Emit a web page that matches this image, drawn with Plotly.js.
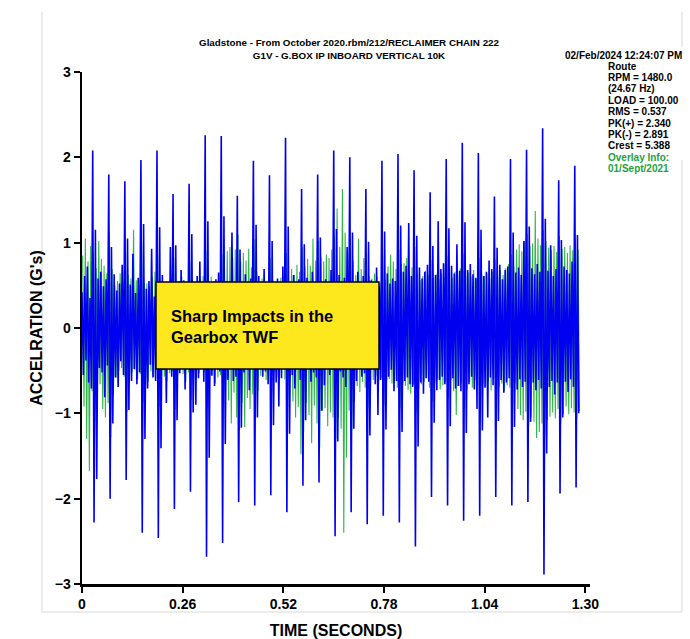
<!DOCTYPE html>
<html>
<head>
<meta charset="utf-8">
<script src="https://cdn.plot.ly/plotly-3.0.1.min.js"></script>
<style>html,body{margin:0;padding:0;background:#fff;}#chart{width:690px;height:639px;}</style>
</head>
<body>
<div id="chart"></div>
<script>
// ---- data ----
const SAMPLE_DT = 0.0034583;           // seconds between samples (12 per shaft revolution)
const xTickVals = [0, 0.26, 0.52, 0.78, 1.04, 1.30];
const xTickText = ["0", "0.26", "0.52", "0.78", "1.04", "1.30"];
const yTickVals = [-3, -2, -1, 0, 1, 2, 3];

// current reading (02/Feb/2024) - blue
const accelCurrent = [
 0.42,-0.55,0.61,-0.38,0.72,-0.64,0.35,-0.71, 2.08,-2.28,1.15,-1.77,
 0.58,-0.47,0.66,-0.52,0.49,-0.81,0.57,-0.44, 1.80,-2.00,0.95,-1.12,
 0.63,-0.58,0.44,-0.69,0.52,-0.39,0.74,-0.55, 1.72,-1.78,1.05,-0.96,
 0.51,-0.62,0.87,-0.48,0.41,-0.66,0.59,-0.52, 1.97,-2.40,1.22,-1.30,
 0.46,-0.71,0.55,-0.43,0.93,-0.58,0.37,-0.62, 2.08,-2.46,1.18,-1.41,
 0.62,-0.49,0.40,-0.88,0.53,-0.46,0.95,-0.57, 1.57,-2.12,0.97,-1.08,
 0.44,-0.53,0.68,-0.41,0.56,-0.72,0.49,-0.38, 1.69,-1.92,1.10,-0.99,
 0.52,-0.90,0.61,-0.59,0.78,-0.47,0.42,-0.63, 2.26,-2.68,1.25,-1.52,
 0.48,-0.56,0.39,-0.68,0.57,-0.44,0.65,-0.51, 2.25,-2.52,1.31,-1.36,
 0.55,-0.61,0.47,-0.39,1.12,-0.62,0.43,-0.57, 1.55,-2.04,0.92,-1.17,
 0.47,-0.52,0.63,-0.45,0.51,-0.73,0.58,-0.42, 1.96,-2.08,1.21,-1.05,
 0.61,-0.48,0.42,-0.57,0.69,-0.51,0.47,-0.66, 1.79,-1.96,1.02,-1.14,
 0.53,-0.64,0.58,-0.92,0.46,-0.59,0.72,-0.48, 2.23,-2.16,1.19,-1.24,
 0.45,-0.55,0.62,-0.71,0.51,-0.47,0.57,-0.61, 1.63,-1.85,0.98,-1.08,
 0.59,-0.44,0.48,-0.63,0.66,-0.52,0.43,-0.58, 1.80,-1.81,1.06,-0.97,
 0.50,-0.67,0.57,-0.46,0.44,-0.55,0.68,-0.49, 2.08,-2.44,1.16,-1.33,
 0.62,-0.51,0.45,-0.58,0.59,-0.69,0.95,-0.47, 2.00,-2.16,1.12,-1.18,
 0.47,-0.62,0.66,-0.44,0.52,-0.57,0.61,-0.53, 1.63,-2.30,1.01,-1.26,
 0.56,-0.48,0.43,-0.66,0.71,-1.02,0.49,-0.61, 1.96,-2.20,1.13,-1.19,
 0.64,-0.57,0.52,-0.49,0.58,-0.74,0.55,-0.62, 2.04,-2.28,1.20,-1.22,
 0.66,-0.62,0.73,-0.58,1.23,-0.66,0.61,-0.69, 1.85,-2.56,1.08,-1.39,
 0.71,-0.64,0.58,-0.77,0.66,-0.59,0.74,-0.63, 1.59,-1.98,0.96,-1.11,
 0.62,-0.73,1.25,-0.61,0.69,-0.57,0.76,-0.66, 1.98,-2.08,1.17,-1.15,
 0.73,-0.59,0.64,-0.71,0.98,-0.68,0.67,-0.74, 2.17,-2.26,1.24,-1.23,
 0.68,-0.66,0.75,-0.57,0.63,-0.72,0.59,-0.95, 2.05,-2.20,1.15,-1.20,
 0.61,-0.70,0.66,-1.05,0.79,-0.58,0.69,-0.67, 1.54,-1.98,0.94,-1.09,
 0.74,-0.61,0.57,-0.76,0.68,-0.64,0.72,-0.59, 1.98,-2.08,1.12,-1.16,
 0.65,-0.72,0.71,-0.60,0.62,-0.69,1.02,-0.63, 2.09,-2.04,1.19,-1.10,
 0.70,-0.64,0.63,-0.73,0.75,-0.61,0.66,-0.71, 2.34,-2.89,1.28,-1.47,
 0.67,-0.69,0.97,-0.62,0.61,-0.78,0.69,-0.64, 1.73,-1.94,1.03,-1.05,
 0.72,-0.63,0.68,-0.75,0.64,-0.60,0.78,-0.69, 1.90,-1.87,1.09,-1.00
];

// overlay reading (01/Sept/2021) - green
const accelOverlay = [
 0.85,-0.92,1.05,-1.30,0.78,-1.68,0.96,-0.74, 0.88,-1.10,0.70,-0.82,
 1.02,-0.66,0.81,-0.95,0.73,-1.05,0.64,-0.88, 1.12,-1.28,0.69,-0.77,
 0.50,-0.58,0.55,-0.50,0.64,-0.47,0.52,-0.57, 0.90,-0.98,0.62,-0.56,
 0.58,-0.52,1.15,-0.49,0.56,-0.60,0.46,-0.54, 1.02,-0.88,0.53,-0.59,
 0.52,-0.63,0.49,-0.51,0.60,-0.57,0.66,-0.47, 0.86,-0.92,0.54,-0.50,
 0.44,-0.57,0.52,-0.62,0.48,-0.53,0.58,-0.51, 0.82,-0.95,0.51,-0.55,
 0.55,-0.48,0.60,-0.54,0.51,-0.63,0.46,-0.52, 0.78,-0.84,0.58,-0.49,
 0.50,-0.59,0.47,-0.53,0.57,-0.48,0.61,-0.52, 0.90,-0.94,0.55,-0.56,
 0.60,-0.50,0.55,-0.65,0.52,-0.58,0.48,-0.55, 0.86,-0.82,0.52,-0.60,
 0.90,-0.85,0.95,-1.12,0.83,-0.76,0.92,-1.05, 1.10,-1.20,0.78,-0.88,
 0.88,-1.16,0.79,-0.82,0.93,-0.95,0.71,-0.78, 1.04,-1.08,0.66,-0.74,
 0.52,-0.56,0.58,-0.48,0.54,-0.61,0.49,-0.51, 0.82,-0.88,0.56,-0.53,
 0.47,-0.58,0.53,-0.55,0.59,-0.49,0.56,-0.60, 0.88,-0.85,0.51,-0.57,
 0.69,-0.86,0.62,-1.05,0.74,-0.93,0.66,-1.48, 0.95,-1.22,0.72,-0.88,
 0.81,-1.02,0.73,-1.35,1.05,-0.91,0.79,-1.12, 1.02,-1.40,0.83,-0.97,
 0.78,-0.94,0.86,-1.15,0.82,-0.99,0.92,-1.05, 1.08,-1.30,1.40,-1.05,
 0.95,-1.18,1.63,-2.40,1.12,-1.52,0.88,-0.97, 1.05,-1.20,0.79,-0.86,
 0.62,-0.68,1.05,-0.75,0.69,-0.63,0.82,-0.70, 0.88,-0.94,0.61,-0.67,
 0.58,-0.61,0.64,-0.56,0.60,-0.66,0.53,-0.58, 0.84,-0.90,0.57,-0.63,
 0.72,-0.60,0.86,-0.65,0.78,-0.62,0.69,-0.70, 0.92,-0.94,0.75,-0.67,
 0.76,-0.68,0.82,-0.73,0.66,-0.77,0.71,-0.66, 0.95,-0.99,0.64,-0.71,
 0.56,-0.66,0.61,-0.63,0.67,-0.59,0.62,-0.70, 0.80,-0.86,0.59,-0.65,
 0.63,-0.60,0.57,-0.72,0.64,-0.67,0.60,-0.63, 0.84,-0.83,0.65,-0.61,
 0.59,-0.74,0.66,-1.02,0.62,-0.68,0.70,-0.65, 0.87,-0.94,0.61,-0.72,
 0.65,-0.63,0.60,-0.70,0.68,-0.61,0.57,-0.68, 0.82,-0.85,0.63,-0.66,
 0.61,-0.68,0.64,-0.62,0.58,-0.73,0.66,-0.60, 0.80,-0.88,0.60,-0.69,
 0.68,-0.65,0.62,-0.74,0.70,-0.67,0.75,-0.70, 0.86,-0.90,0.72,-0.64,
 0.92,-0.95,0.98,-1.02,0.90,-1.08,1.02,-0.98, 1.10,-1.15,0.96,-1.05,
 0.99,-1.10,1.37,-1.29,1.05,-1.22,0.97,-1.12, 1.15,-1.25,1.02,-1.08,
 0.94,-1.04,0.91,-0.99,0.96,-1.06,0.89,-0.95, 1.08,-1.12,0.93,-1.01,
 0.95,-0.92,0.88,-1.01,0.97,-0.94,0.91,-0.99, 1.04,-1.06,0.92,-0.97
];

const infoHeader = "02/Feb/2024 12:24:07 PM";
const infoLines = ["Route", "RPM = 1480.0", "(24.67 Hz)", "LOAD = 100.00", "RMS = 0.537",
                   "PK(+) = 2.340", "PK(-) = 2.891", "Crest = 5.388"];
const overlayLines = ["Overlay Info:", "01/Sept/2021"];

// ---- build ----
const timeCurrent = accelCurrent.map((_, i) => i * SAMPLE_DT);
const timeOverlay = accelOverlay.map((_, i) => (i + 0.5) * SAMPLE_DT);

const W = 690, H = 639;
const M = {l: 82, r: 100, t: 72, b: 55};
const PW = W - M.l - M.r, PH = H - M.t - M.b;
const px = x => (x - M.l) / PW;
const py = y => (H - M.b - y) / PH;

const FONT = "Liberation Sans, Arial, Helvetica, sans-serif";

const traces = [
  {x: timeOverlay, y: accelOverlay, type: 'scatter', mode: 'lines',
   line: {color: '#33b54a', width: 1.1}, hoverinfo: 'skip', name: '01/Sept/2021'},
  {x: timeCurrent, y: accelCurrent, type: 'scatter', mode: 'lines',
   line: {color: '#0000f0', width: 1.6}, hoverinfo: 'skip', name: '02/Feb/2024'}
];

const annotations = [];
annotations.push({xref: 'paper', yref: 'paper', x: px(683), y: py(55), xanchor: 'right', yanchor: 'middle',
  text: infoHeader, showarrow: false, bgcolor: '#ffffff', borderpad: 0,
  font: {family: FONT, size: 10, color: '#000', weight: 'bold'}});
infoLines.concat(overlayLines).forEach((t, i) => {
  annotations.push({xref: 'paper', yref: 'paper', x: px(607), y: py(66 + 11.4 * i),
    xanchor: 'left', yanchor: 'middle', text: t, showarrow: false, borderpad: 0,
    font: {family: FONT, size: 10, weight: 'bold', color: i >= infoLines.length ? '#1aa33c' : '#000'}});
});
annotations.push({xref: 'paper', yref: 'paper', x: px(169), y: py(326), xanchor: 'left', yanchor: 'middle',
  align: 'left', text: "Sharp Impacts in the<br>Gearbox TWF", showarrow: false,
  font: {family: FONT, size: 16.5, weight: 'bold', color: '#000'}});

const shapes = [
  // light outer frame
  {type: 'line', xref: 'paper', yref: 'paper', x0: px(42), x1: px(42), y0: py(12), y1: py(612), line: {color: '#d9d9d9', width: 1}, layer: 'below'},
  {type: 'line', xref: 'paper', yref: 'paper', x0: px(42), x1: px(682), y0: py(612), y1: py(612), line: {color: '#d9d9d9', width: 1}, layer: 'below'},
  {type: 'line', xref: 'paper', yref: 'paper', x0: px(682), x1: px(682), y0: py(12), y1: py(47), line: {color: '#d9d9d9', width: 1}, layer: 'below'},
  {type: 'line', xref: 'paper', yref: 'paper', x0: px(682), x1: px(682), y0: py(160), y1: py(612), line: {color: '#d9d9d9', width: 1}, layer: 'below'},
  // yellow callout box
  {type: 'rect', xref: 'paper', yref: 'paper', x0: px(156), x1: px(379), y0: py(369), y1: py(282),
   fillcolor: '#fde81e', line: {color: '#000', width: 1.5}, layer: 'above'}
];

const layout = {
  width: W, height: H,
  margin: M,
  paper_bgcolor: '#fff', plot_bgcolor: '#fff',
  showlegend: false,
  title: {text: "Gladstone - From October 2020.rbm/212/RECLAIMER CHAIN 222<br>G1V - G.BOX IP INBOARD VERTICAL 10K",
          xref: 'container', yref: 'container', x: 349 / W, y: 1 - 46 / H, xanchor: 'center', yanchor: 'middle',
          font: {family: FONT, size: 9.8, weight: 'bold', color: '#000'}},
  xaxis: {range: [0, 1.312], tickvals: xTickVals, ticktext: xTickText,
          showgrid: false, zeroline: false, showline: true, linecolor: '#000', linewidth: 2.5,
          ticks: 'outside', ticklen: 6, tickwidth: 2, tickcolor: '#000',
          tickfont: {family: FONT, size: 14, weight: 'bold', color: '#000'},
          title: {text: "TIME (SECONDS)", standoff: 14, font: {family: FONT, size: 16, weight: 'bold', color: '#000'}}},
  yaxis: {range: [-3, 3], tickvals: yTickVals,
          showgrid: false, zeroline: false, showline: true, linecolor: '#000', linewidth: 2.5,
          ticks: 'outside', ticklen: 6, tickwidth: 2, tickcolor: '#000',
          tickfont: {family: FONT, size: 14, weight: 'bold', color: '#000'},
          title: {text: "ACCELRATION (G's)", standoff: 8, font: {family: FONT, size: 16, weight: 'bold', color: '#000'}}},
  annotations: annotations,
  shapes: shapes
};

Plotly.newPlot('chart', traces, layout, {displayModeBar: false, staticPlot: true});
</script>
</body>
</html>
